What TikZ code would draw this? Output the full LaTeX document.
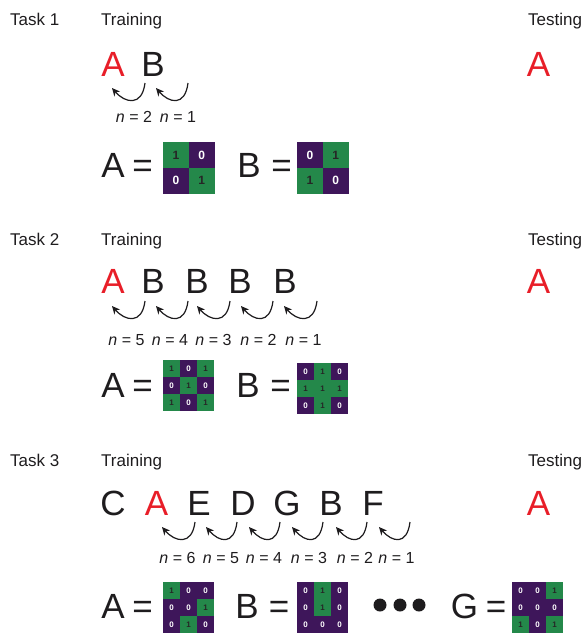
\documentclass[tikz,border=0pt]{standalone}
\usepackage{fontspec}
\setmainfont{Liberation Sans}
\usetikzlibrary{arrows.meta}
\definecolor{cgreen}{RGB}{36,136,74}
\definecolor{cpurple}{RGB}{62,22,90}
\definecolor{cred}{RGB}{232,30,40}
\definecolor{ctext}{RGB}{30,28,30}
\tikzset{
  head/.style={font=\fontsize{17}{20}\selectfont, text=ctext, inner sep=0, anchor=base west},
  big/.style={font=\fontsize{35}{40}\selectfont, text=ctext, inner sep=0, anchor=base},
  bigred/.style={big, text=cred},
  lab/.style={font=\fontsize{16}{19}\selectfont, text=ctext, inner sep=0, anchor=base},
  arr/.style={-{Stealth[length=8pt,width=7.5pt]}, line width=1.2pt, draw=ctext},
  gcell/.style={inner sep=0, anchor=north west, font=\bfseries},
  dotnode/.style={circle, fill=ctext, inner sep=0, minimum size=13pt},
}
% #1 name, #2 x, #3 y, #4 cell size, #5 columns, #6 font size, #7 values
\newcommand\mygrid[7]{%
  \foreach \v [count=\k from 0] in {#7} {%
    \pgfmathtruncatemacro\rr{div(\k,#5)}%
    \pgfmathtruncatemacro\cc{mod(\k,#5)}%
    \ifnum\v=1 \def\cf{cgreen}\def\tc{black!85}\else\def\cf{cpurple}\def\tc{white}\fi
    \node[gcell, fill=\cf, text=\tc, minimum width=#4pt, minimum height=#4pt,
          font=\fontsize{#6}{#6}\selectfont\bfseries]
      (#1-\k) at ({#2+\cc*#4},{#3+\rr*#4}) {\v};
  }%
}
\newcommand\myarrows[3]{% #1 prefix, #2 start y, #3 list start/end
  \foreach \s/\e [count=\i] in {#3} {%
    \coordinate (#1s\i) at (\s,#2);
    \coordinate (#1e\i) at (\e,#2+5);
    \draw[arr] (#1s\i) .. controls +(-3,24) and +(13,15) .. (#1e\i);
  }%
}
\begin{document}
\begin{tikzpicture}[x=1pt,y=-1pt]
\useasboundingbox (0,0) rectangle (587,633);

% ---------- Task 1 ----------
\node[head] (t1) at (10,25) {Task 1};
\node[head] (tr1) at (101,25) {Training};
\node[head] (te1) at (528,25) {Testing};
\node[bigred] (a1) at (113,76) {A};
\node[big] (b1) at (153,76) {B};
\node[bigred] (ta1) at (538.5,76) {A};
\myarrows{p}{83}{145/112,188/156}
\node[lab] (l1a) at (134,122) {{\itshape n} = 2};
\node[lab] (l1b) at (178,122) {{\itshape n} = 1};
\node[big] (ea1) at (113,177) {A};
\node[big] (eq1a) at (142.5,177) {=};
\mygrid{g1a}{163}{142}{25.75}{2}{12}{1,0,0,1}
\node[big] (eb1) at (249,177) {B};
\node[big] (eq1b) at (281.5,177) {=};
\mygrid{g1b}{297}{142}{25.75}{2}{12}{0,1,1,0}

% ---------- Task 2 ----------
\node[head] (t2) at (10,245) {Task 2};
\node[head] (tr2) at (101,245) {Training};
\node[head] (te2) at (528,245) {Testing};
\node[bigred] (a2) at (113,293) {A};
\node[big] (b2a) at (153,293) {B};
\node[big] (b2b) at (197,293) {B};
\node[big] (b2c) at (240,293) {B};
\node[big] (b2d) at (285,293) {B};
\node[bigred] (ta2) at (538.5,293) {A};
\myarrows{q}{301}{145/112,188/156,230/197,273/241,317/284}
\node[lab] (l2a) at (126.5,345) {{\itshape n} = 5};
\node[lab] (l2b) at (170,345) {{\itshape n} = 4};
\node[lab] (l2c) at (213.5,345) {{\itshape n} = 3};
\node[lab] (l2d) at (258.5,345) {{\itshape n} = 2};
\node[lab] (l2e) at (303.5,345) {{\itshape n} = 1};
\node[big] (ea2) at (113,397) {A};
\node[big] (eq2a) at (142.5,397) {=};
\mygrid{g2a}{163}{360}{17}{3}{8}{1,0,1,0,1,0,1,0,1}
\node[big] (eb2) at (248,397) {B};
\node[big] (eq2b) at (280.5,397) {=};
\mygrid{g2b}{297}{363}{17}{3}{8}{0,1,0,1,1,1,0,1,0}

% ---------- Task 3 ----------
\node[head] (t3) at (10,466) {Task 3};
\node[head] (tr3) at (101,466) {Training};
\node[head] (te3) at (528,466) {Testing};
\node[big] (c3) at (113,515) {C};
\node[bigred] (a3) at (156.5,515) {A};
\node[big] (e3) at (199,515) {E};
\node[big] (d3) at (243,515) {D};
\node[big] (g3) at (287,515) {G};
\node[big] (b3) at (331,515) {B};
\node[big] (f3) at (373,515) {F};
\node[bigred] (ta3) at (538.5,515) {A};
\myarrows{r}{522}{195/162,237/206,280/249,323/292,367/336,410/379}
\node[lab] (l3a) at (177.5,563) {{\itshape n} = 6};
\node[lab] (l3b) at (221,563) {{\itshape n} = 5};
\node[lab] (l3c) at (264,563) {{\itshape n} = 4};
\node[lab] (l3d) at (309,563) {{\itshape n} = 3};
\node[lab] (l3e) at (355,563) {{\itshape n} = 2};
\node[lab] (l3f) at (396.5,563) {{\itshape n} = 1};
\node[big] (ea3) at (113,618) {A};
\node[big] (eq3a) at (142.5,618) {=};
\mygrid{g3a}{163}{582}{17}{3}{8}{1,0,0,0,0,1,0,1,0}
\node[big] (eb3) at (247,618) {B};
\node[big] (eq3b) at (279,618) {=};
\mygrid{g3b}{297}{582}{17}{3}{8}{0,1,0,0,1,0,0,0,0}
\node[dotnode] (dt1) at (380,605) {};
\node[dotnode] (dt2) at (400,605) {};
\node[dotnode] (dt3) at (419,605) {};
\node[big] (eg3) at (464.5,618) {G};
\node[big] (eq3g) at (496,618) {=};
\mygrid{g3g}{512}{582}{17}{3}{8}{0,0,1,0,0,0,1,0,1}
\end{tikzpicture}
\end{document}
